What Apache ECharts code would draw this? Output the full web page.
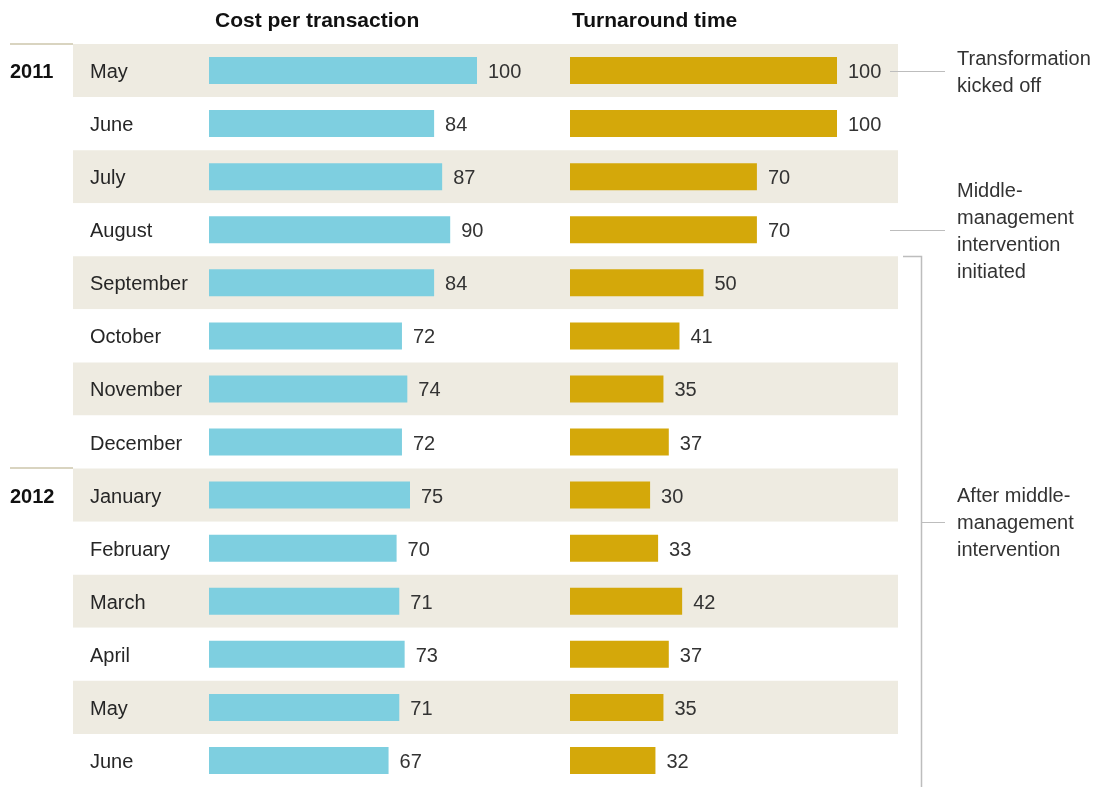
<!DOCTYPE html>
<html>
<head>
<meta charset="utf-8">
<script src="https://cdn.jsdelivr.net/npm/echarts@6/dist/echarts.min.js"></script>
<style>
  html, body { margin: 0; padding: 0; background: #fff; }
  #main { width: 1109px; height: 787px; }
</style>
</head>
<body>
<div id="main"></div>
<script>
// row keys (unique) and the month names shown for them
var rowKeys = ['2011-05', '2011-06', '2011-07', '2011-08', '2011-09', '2011-10', '2011-11',
  '2011-12', '2012-01', '2012-02', '2012-03', '2012-04', '2012-05', '2012-06'];
var monthNames = ['May', 'June', 'July', 'August', 'September', 'October', 'November',
  'December', 'January', 'February', 'March', 'April', 'May', 'June'];
var costPerTransaction = [100, 84, 87, 90, 84, 72, 74, 72, 75, 70, 71, 73, 71, 67];
var turnaroundTime = [100, 100, 70, 70, 50, 41, 35, 37, 30, 33, 42, 37, 35, 32];
var yearStarts = [{ key: '2011-05', text: '2011' }, { key: '2012-01', text: '2012' }];

var FONT = '"Liberation Sans", Arial, sans-serif';
var ROW_TOP = 44;
var ROW_H = 53.4;
var plotH = ROW_H * rowKeys.length;

var chart = echarts.init(document.getElementById('main'), null, { renderer: 'canvas' });

function barSeries(idx, data, color) {
    return {
        type: 'bar',
        xAxisIndex: idx,
        yAxisIndex: idx,
        data: data,
        barWidth: 27,
        itemStyle: { color: color },
        silent: true,
        animation: false,
        label: {
            show: true,
            position: 'right',
            distance: 11,
            offset: [0, 2],
            fontFamily: FONT,
            fontSize: 20,
            color: '#333'
        }
    };
}

var option = {
    backgroundColor: '#fff',
    animation: false,
    grid: [
        { left: 209, top: ROW_TOP, width: 268, height: plotH },
        { left: 570, top: ROW_TOP, width: 267, height: plotH },
        // background bands + month names
        { left: 73, top: ROW_TOP, width: 825, height: plotH }
    ],
    xAxis: [
        { gridIndex: 0, type: 'value', min: 0, max: 100, show: false },
        { gridIndex: 1, type: 'value', min: 0, max: 100, show: false },
        { gridIndex: 2, type: 'value', min: 0, max: 100, show: false }
    ],
    yAxis: [
        { gridIndex: 0, type: 'category', data: rowKeys, inverse: true, show: false },
        { gridIndex: 1, type: 'category', data: rowKeys, inverse: true, show: false },
        {
            gridIndex: 2, type: 'category', data: rowKeys, inverse: true,
            z: 0,
            axisLine: { show: false },
            axisTick: { show: false },
            splitLine: { show: false },
            splitArea: { show: true, areaStyle: { color: ['#EEEBE1', '#FFFFFF'] } },
            axisLabel: {
                inside: true,
                margin: 17,
                align: 'left',
                formatter: function (v, i) { return '{m|' + monthNames[i] + '}'; },
                rich: {
                    m: {
                        fontFamily: FONT,
                        fontSize: 20,
                        color: '#262626',
                        padding: [4, 0, 0, 0]
                    }
                }
            }
        }
    ],
    series: [
        barSeries(0, costPerTransaction, '#7ECFE0'),
        barSeries(1, turnaroundTime, '#D4A80A')
    ]
};
chart.setOption(option);

// annotations placed from the category scale
function rowY(key) {
    return chart.convertToPixel({ yAxisIndex: 2 }, key);
}
var txt = { fontFamily: FONT, fontSize: 20, fill: '#333', lineHeight: 27, verticalAlign: 'middle' };
var g = [
    { type: 'text', left: 215, top: 11, style: { text: 'Cost per transaction', font: 'bold 21px ' + FONT, fill: '#111' } },
    { type: 'text', left: 572, top: 11, style: { text: 'Turnaround time', font: 'bold 21px ' + FONT, fill: '#111' } }
];
yearStarts.forEach(function (ys) {
    var c = rowY(ys.key);
    var top = Math.round(c - ROW_H / 2);
    g.push({ type: 'line', shape: { x1: 10, y1: top, x2: 73, y2: top }, style: { stroke: '#D9D4C0', lineWidth: 2 } });
    g.push({ type: 'text', x: 10, y: c + 2, style: { text: ys.text, font: 'bold 20px ' + FONT, fill: '#111', verticalAlign: 'middle' } });
});
function note(key, text, withLine) {
    var c = Math.round(rowY(key)) + 0.5;
    if (withLine) {
        g.push({ type: 'line', shape: { x1: 890, y1: c, x2: 945, y2: c }, style: { stroke: '#BDBDBD', lineWidth: 1 } });
    }
    g.push({ type: 'text', x: 957, y: c + 1, style: Object.assign({ text: text }, txt) });
}
note('2011-05', 'Transformation\nkicked off', true);
note('2011-08', 'Middle-\nmanagement\nintervention\ninitiated', true);
// bracket for post-intervention period
var bTop = Math.round(rowY('2011-09') - ROW_H / 2) + 0.5;
var bMid = Math.round((rowY('2012-01') + rowY('2012-02')) / 2) + 0.5;
g.push({ type: 'polyline', shape: { points: [[903, bTop], [921.5, bTop], [921.5, 800]] }, style: { stroke: '#BDBDBD', lineWidth: 1.5, fill: null } });
g.push({ type: 'line', shape: { x1: 921.5, y1: bMid, x2: 945, y2: bMid }, style: { stroke: '#BDBDBD', lineWidth: 1 } });
g.push({ type: 'text', x: 957, y: bMid + 1, style: Object.assign({ text: 'After middle-\nmanagement\nintervention' }, txt) });

chart.setOption({ graphic: g });
window.addEventListener('resize', function () { chart.resize(); });
</script>
</body>
</html>
